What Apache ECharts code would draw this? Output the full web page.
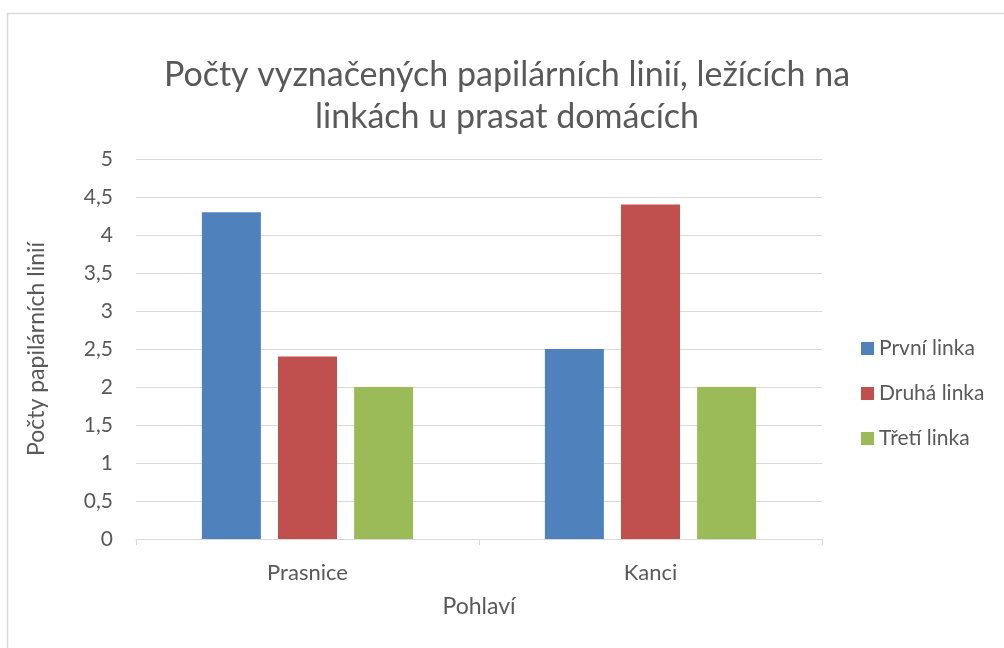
<!DOCTYPE html>
<html>
<head>
<meta charset="utf-8">
<script src="https://cdn.jsdelivr.net/npm/echarts@6/dist/echarts.min.js"></script>
<style>
  html, body { margin: 0; padding: 0; background: #fff; }
  #chart { width: 1004px; height: 648px; }
</style>
</head>
<body>
<div id="chart"></div>
<script>
// data
const categories = ['Prasnice', 'Kanci']
const seriesNames = ['První linka', 'Druhá linka', 'Třetí linka']
const prvniLinka = [4.3, 2.5]
const druhaLinka = [2.4, 4.4]
const tretiLinka = [2, 2]
const colors = ['#4f81bd', '#c0504d', '#9bbb59']

const font = 'Lato, "Open Sans", sans-serif'
const textColor = '#595959'

const myChart = echarts.init(document.getElementById('chart'))

const option = {
  animation: false,
  textStyle: { fontFamily: font },
  color: colors,
  graphic: [
    {
      type: 'rect',
      shape: { x: 7.5, y: 13.5, width: 1100, height: 800 },
      style: { fill: 'none', stroke: '#d9d9d9', lineWidth: 1.5 },
      silent: true
    }
  ],
  title: {
    text: 'Počty vyznačených papilárních linií, ležících na\nlinkách u prasat domácích',
    left: 507,
    textAlign: 'center',
    top: 54,
    padding: 0,
    textStyle: {
      fontFamily: font,
      fontSize: 34,
      fontWeight: 'normal',
      color: textColor,
      lineHeight: 42
    }
  },
  legend: {
    orient: 'vertical',
    left: 856,
    top: 333,
    itemWidth: 13,
    itemHeight: 13,
    itemGap: 24,
    icon: 'rect',
    textStyle: { fontFamily: font, fontSize: 21, lineHeight: 21, color: textColor },
    data: seriesNames
  },
  grid: {
    left: 136,
    right: 182,
    top: 159,
    bottom: 109,
    containLabel: false
  },
  xAxis: {
    type: 'category',
    data: categories,
    name: 'Pohlaví',
    nameLocation: 'middle',
    nameGap: 56,
    nameTextStyle: { fontFamily: font, fontSize: 23, color: textColor },
    axisLine: { lineStyle: { color: '#d9d9d9', width: 1 } },
    axisTick: { show: true, length: 6, lineStyle: { color: '#d9d9d9' } },
    axisLabel: { fontFamily: font, fontSize: 22, color: textColor, margin: 23 }
  },
  yAxis: {
    type: 'value',
    min: 0,
    max: 5,
    interval: 0.5,
    name: 'Počty papilárních linií',
    nameLocation: 'middle',
    nameGap: 88,
    nameTextStyle: { fontFamily: font, fontSize: 23, color: textColor },
    axisLine: { show: false },
    axisTick: { show: false },
    splitLine: { lineStyle: { color: '#d9d9d9', width: 1 } },
    axisLabel: {
      fontFamily: font,
      fontSize: 21,
      color: textColor,
      margin: 23,
      formatter: v => String(v).replace('.', ',')
    }
  },
  series: [
    { name: seriesNames[0], type: 'bar', data: prvniLinka, barWidth: 59, barGap: '29%' },
    { name: seriesNames[1], type: 'bar', data: druhaLinka, barWidth: 59, barGap: '29%' },
    { name: seriesNames[2], type: 'bar', data: tretiLinka, barWidth: 59, barGap: '29%' }
  ]
}

myChart.setOption(option)

window.onresize = () => {
  myChart.resize()
}
</script>
</body>
</html>
